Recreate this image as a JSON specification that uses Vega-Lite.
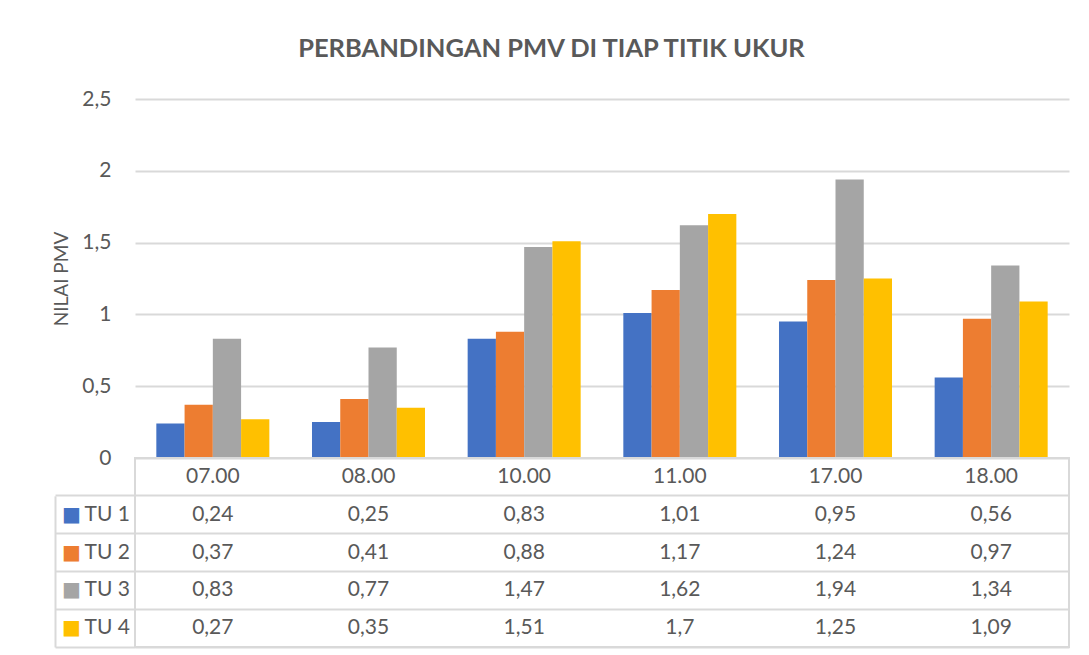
{
  "$schema": "https://vega.github.io/schema/vega-lite/v6.json",
  "padding": {"left": 52, "top": 36, "right": 20, "bottom": 8},
  "background": "white",
  "config": {
    "font": "Lato",
    "view": {"stroke": null},
    "locale": {"number": {"decimal": ",", "thousands": ".", "grouping": [3], "currency": ["", ""]}},
    "axis": {"labelFont": "Lato", "titleFont": "Lato", "labelColor": "#595959", "titleColor": "#595959"}
  },
  "title": {"text": "PERBANDINGAN PMV DI TIAP TITIK UKUR", "fontSize": 25.5, "fontWeight": "bold", "color": "#595959", "anchor": "middle", "offset": 26, "dx": -10, "font": "Lato"},
  "datasets": {
    "pmv": [
      {"time": "07.00", "series": "TU 1", "value": 0.24},
      {"time": "07.00", "series": "TU 2", "value": 0.37},
      {"time": "07.00", "series": "TU 3", "value": 0.83},
      {"time": "07.00", "series": "TU 4", "value": 0.27},
      {"time": "08.00", "series": "TU 1", "value": 0.25},
      {"time": "08.00", "series": "TU 2", "value": 0.41},
      {"time": "08.00", "series": "TU 3", "value": 0.77},
      {"time": "08.00", "series": "TU 4", "value": 0.35},
      {"time": "10.00", "series": "TU 1", "value": 0.83},
      {"time": "10.00", "series": "TU 2", "value": 0.88},
      {"time": "10.00", "series": "TU 3", "value": 1.47},
      {"time": "10.00", "series": "TU 4", "value": 1.51},
      {"time": "11.00", "series": "TU 1", "value": 1.01},
      {"time": "11.00", "series": "TU 2", "value": 1.17},
      {"time": "11.00", "series": "TU 3", "value": 1.62},
      {"time": "11.00", "series": "TU 4", "value": 1.7},
      {"time": "17.00", "series": "TU 1", "value": 0.95},
      {"time": "17.00", "series": "TU 2", "value": 1.24},
      {"time": "17.00", "series": "TU 3", "value": 1.94},
      {"time": "17.00", "series": "TU 4", "value": 1.25},
      {"time": "18.00", "series": "TU 1", "value": 0.56},
      {"time": "18.00", "series": "TU 2", "value": 0.97},
      {"time": "18.00", "series": "TU 3", "value": 1.34},
      {"time": "18.00", "series": "TU 4", "value": 1.09}
    ]
  },
  "spacing": 0,
  "bounds": "flush",
  "resolve": {"scale": {"x": "independent", "y": "independent", "color": "independent"}},
  "vconcat": [
    {
      "width": 934,
      "height": 359,
      "data": {"name": "pmv"},
      "mark": {"type": "bar"},
      "encoding": {
        "x": {"field": "time", "type": "nominal", "sort": null, "scale": {"type": "band", "paddingInner": 0.274, "paddingOuter": 0.137}, "axis": null},
        "xOffset": {"field": "series", "type": "nominal", "scale": {"paddingInner": 0, "paddingOuter": 0}},
        "y": {
          "field": "value", "type": "quantitative",
          "scale": {"domain": [0, 2.5], "nice": false},
          "axis": {
            "values": [0, 0.5, 1, 1.5, 2, 2.5], "format": "~g",
            "title": "NILAI PMV", "titleFontSize": 19, "titleFontWeight": "normal", "titlePadding": 10,
            "grid": true, "gridColor": "#d9d9d9", "gridWidth": 2,
            "domain": false, "ticks": false, "tickSize": 0,
            "labelPadding": 24, "labelFontSize": 21
          }
        },
        "color": {"field": "series", "type": "nominal", "scale": {"domain": ["TU 1", "TU 2", "TU 3", "TU 4"], "range": ["#4472C4", "#ED7D31", "#A5A5A5", "#FFC000"]}, "legend": null}
      }
    },
    {
      "width": 934,
      "height": 189,
      "view": {"stroke": "#d9d9d9", "strokeWidth": 2},
      "data": {"name": "pmv"},
      "resolve": {"axis": {"y": "independent"}},
      "layer": [
        {
          "mark": {"type": "text", "fontSize": 21, "color": "#595959", "font": "Lato"},
          "encoding": {
            "x": {"field": "time", "type": "nominal", "sort": null, "scale": {"type": "band", "paddingInner": 0, "paddingOuter": 0},
              "axis": {"title": null, "labels": false, "ticks": false, "domain": false, "grid": true, "bandPosition": 0, "gridColor": "#d9d9d9", "gridWidth": 2}},
            "y": {"field": "series", "type": "nominal", "scale": {"type": "band", "domain": ["hdr", "TU 1", "TU 2", "TU 3", "TU 4"], "paddingInner": 0, "paddingOuter": 0},
              "axis": {"orient": "left", "title": null, "offset": 80, "domain": true, "domainColor": "#d9d9d9", "domainWidth": 2, "domainDash": [151.2, 37.8], "domainDashOffset": 151.2,
                "ticks": false, "tickSize": 0, "grid": false, "labelAlign": "left", "labelPadding": -29, "labelFontSize": 21,
                "labelExpr": "datum.value === 'hdr' ? '' : datum.value"}},
            "text": {"field": "value", "type": "quantitative", "format": "~g"}
          }
        },
        {
          "transform": [{"filter": "datum.series === 'TU 1'"}],
          "mark": {"type": "text", "fontSize": 21, "color": "#595959", "font": "Lato"},
          "encoding": {
            "x": {"field": "time", "type": "nominal", "sort": null, "axis": null},
            "y": {"datum": "hdr", "type": "nominal",
              "axis": {"orient": "left", "title": null, "labels": false, "domain": false, "ticks": true, "tickSize": 80, "tickColor": "#d9d9d9", "tickWidth": 2, "bandPosition": 1,
                "grid": true, "gridColor": "#d9d9d9", "gridWidth": 2}},
            "text": {"field": "time"}
          }
        },
        {
          "mark": {"type": "text", "text": ""},
          "encoding": {
            "y": {"field": "series", "type": "nominal",
              "axis": {"orient": "left", "title": null, "domain": false, "ticks": false, "tickSize": 0, "grid": false,
                "labelPadding": 64, "labelAlign": "center", "labelFont": "DejaVu Sans", "labelFontSize": 20,
                "labelExpr": "datum.value === 'hdr' ? '' : '■'",
                "labelColor": {"condition": [
                  {"test": "datum.value === 'TU 1'", "value": "#4472C4"},
                  {"test": "datum.value === 'TU 2'", "value": "#ED7D31"},
                  {"test": "datum.value === 'TU 3'", "value": "#A5A5A5"}
                ], "value": "#FFC000"}}}
          }
        }
      ]
    }
  ]
}
